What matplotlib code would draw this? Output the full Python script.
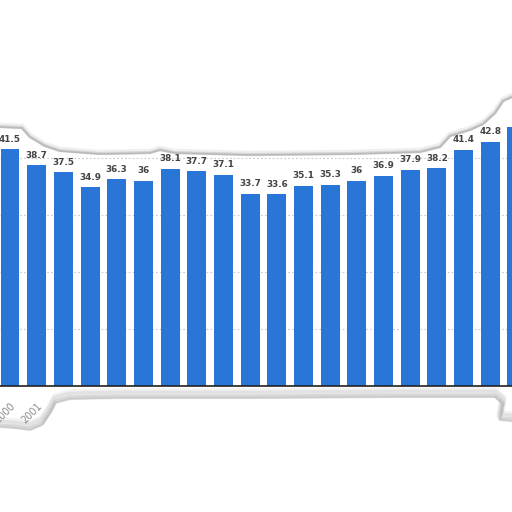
import numpy as np
import matplotlib
matplotlib.use("Agg")
import matplotlib.pyplot as plt
from matplotlib.transforms import Affine2D
from matplotlib.patches import Polygon

years = [str(y) for y in range(2000, 2020)]
values = [41.5, 38.7, 37.5, 34.9, 36.3, 36, 38.1, 37.7, 37.1, 33.7,
          33.6, 35.1, 35.3, 36, 36.9, 37.9, 38.2, 41.4, 42.8, 45.4]
labels = ['41.5', '38.7', '37.5', '34.9', '36.3', '36', '38.1', '37.7', '37.1', '33.7',
          '33.6', '35.1', '35.3', '36', '36.9', '37.9', '38.2', '41.4', '42.8', '45.4']

W = H = 512
px_unit = 5.7       # pixels per value unit
base_px = 386       # baseline, pixels from top
step = 26.68        # pixels between bar centres
first = 10          # first bar centre, px

fig = plt.figure(figsize=(5.12, 5.12), dpi=100)
ax = fig.add_axes([0, 0, 1, 1])
ax.set_xlim(-first / step, (W - first) / step)
ax.set_ylim(-(H - base_px) / px_unit, base_px / px_unit)
ax.axis('off')

x = np.arange(len(values))
for g in [10, 20, 30, 40]:
    ax.axhline(g, color='#c8c8c8', lw=0.8, ls=(0, (1.5, 2)), zorder=0)
ax.bar(x, values, width=0.71, color='#2a75d8', zorder=2)
ax.axhline(0, color='#222222', lw=1.2, zorder=3)

for xi, v, t in zip(x, values, labels):
    ax.annotate(t, (xi, v), xytext=(0, 4), textcoords='offset points',
                ha='center', va='bottom', fontsize=6.4, fontweight='bold',
                color='#444444', zorder=4)

for xi, y in zip(x, years):
    ax.annotate(y, (xi, 0), xytext=(0, -11), textcoords='offset points',
                ha='right', va='top', rotation=45, rotation_mode='anchor',
                fontsize=7, color='#8a8a8a', zorder=4)

# torn paper edges, in pixels (y from top)
pix = Affine2D().scale(1 / W, -1 / H).translate(0, 1) + fig.transFigure

top_edge = [(0, 127), (22, 128), (30, 137), (45, 146), (60, 151), (100, 154),
            (150, 153), (160, 150), (175, 153), (250, 155), (350, 154),
            (420, 152), (440, 147), (450, 136), (470, 130), (483, 124),
            (495, 113), (503, 101), (512, 97)]
bot_edge = [(0, 427), (15, 428), (30, 430), (42, 425), (50, 413), (55, 403),
            (70, 399), (120, 398), (256, 398), (400, 397), (495, 397),
            (503, 404), (500, 420), (512, 421)]

te = np.array(top_edge, float)
be = np.array(bot_edge, float)
top_poly = np.vstack([te, [[W + 5, -5], [-5, -5]]])
bot_poly = np.vstack([be, [[W + 5, H + 5], [-5, H + 5]]])

ax.add_patch(Polygon(top_poly, closed=True, transform=pix, fc='white', ec='none', zorder=6))
ax.add_patch(Polygon(bot_poly, closed=True, transform=pix, fc='white', ec='none', zorder=6))

# soft shadows along the tears
for off, lw, a in [(-1.5, 4, 0.15), (-0.5, 2.2, 0.3), (0, 1.2, 0.45)]:
    ax.plot(te[:, 0], te[:, 1] + off, color='#9a9a9a', lw=lw, alpha=a,
            transform=pix, zorder=7, solid_capstyle='round')
for off, lw, a in [(-7, 4, 0.12), (-4, 5, 0.18), (-1.5, 3, 0.25), (0, 1.5, 0.3)]:
    ax.plot(be[:, 0], be[:, 1] + off, color='#9a9a9a', lw=lw, alpha=a,
            transform=pix, zorder=7, solid_capstyle='round')

fig.savefig('out.png', dpi=100, facecolor='white')
